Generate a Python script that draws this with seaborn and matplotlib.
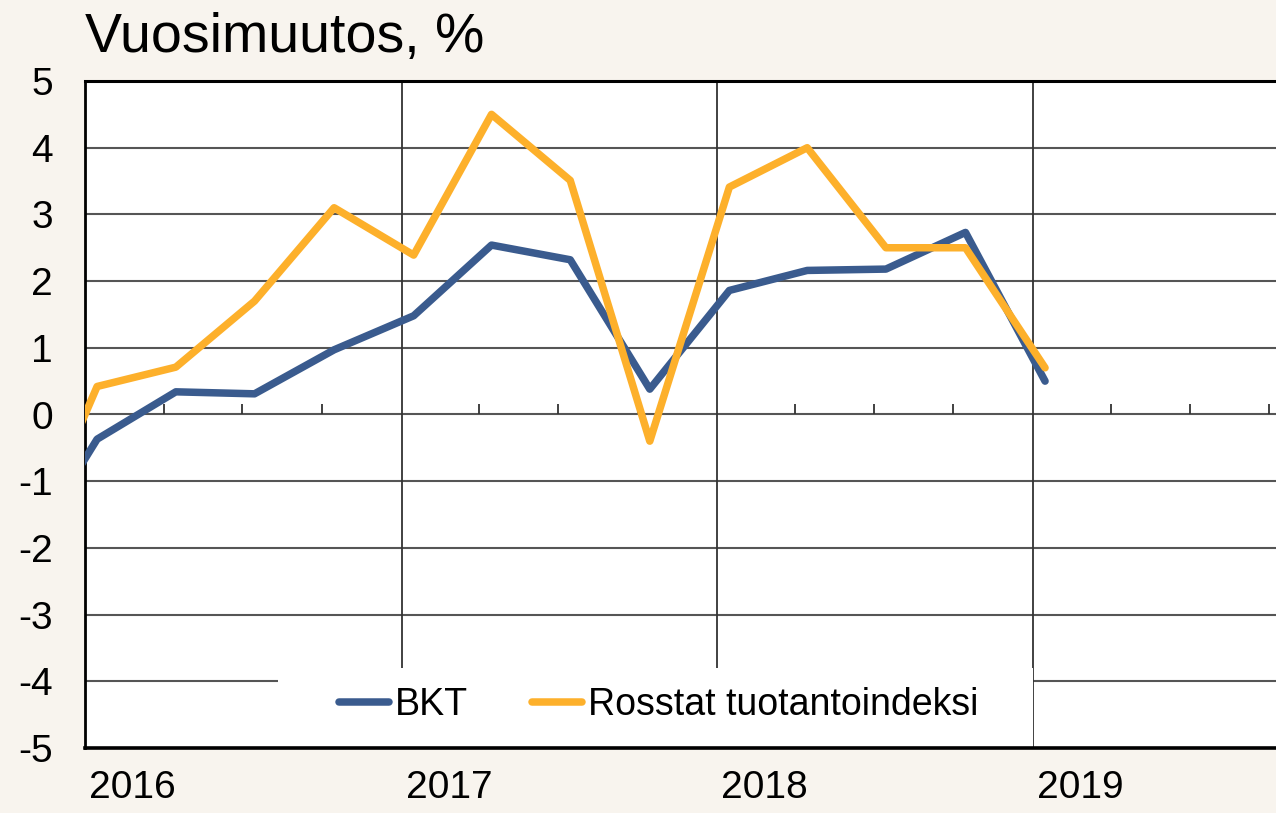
import pandas as pd
import numpy as np
import seaborn as sns
import matplotlib.pyplot as plt
from matplotlib.lines import Line2D
from matplotlib.patches import Rectangle
from matplotlib.transforms import ScaledTranslation

# Quarterly data, plotted at mid-month of the first month of each quarter
dates = pd.to_datetime(['2015-10-15', '2016-01-15', '2016-04-15', '2016-07-15', '2016-10-15',
                        '2017-01-15', '2017-04-15', '2017-07-15', '2017-10-15',
                        '2018-01-15', '2018-04-15', '2018-07-15', '2018-10-15',
                        '2019-01-15'])
bkt = [-2.3, -0.37, 0.34, 0.31, 0.97, 1.48, 2.54, 2.32, 0.38, 1.86, 2.16, 2.18, 2.73, 0.5]
rosstat = [-2.35, 0.42, 0.71, 1.70, 3.10, 2.39, 4.50, 3.51, -0.40, 3.41, 4.00, 2.50, 2.50, 0.70]
series_names = ['BKT', 'Rosstat tuotantoindeksi']
series_colors = ['#3a5b8e', '#fdb02b']
years = [2016, 2017, 2018, 2019]
y_ticks = [5, 4, 3, 2, 1, 0, -1, -2, -3, -4, -5]
title = 'Vuosimuutos, %'

bg = '#f8f4ee'

# Long format for seaborn
df = pd.concat([
    pd.DataFrame({'date': dates, 'value': bkt, 'series': series_names[0]}),
    pd.DataFrame({'date': dates, 'value': rosstat, 'series': series_names[1]}),
])

sns.set_style('white')
plt.rcParams['font.family'] = ['Liberation Sans', 'DejaVu Sans']
plt.rcParams['axes.unicode_minus'] = False
plt.rcParams['text.color'] = 'black'

fig = plt.figure(figsize=(12.76, 8.13), dpi=100, facecolor=bg)
ax = fig.add_axes([85 / 1276, 65 / 813, 1191 / 1276, 667 / 813])
ax.set_facecolor('white')

# Gridlines drawn by hand so the legend box can sit over them
for v in y_ticks[1:-1]:
    ax.axhline(v, color='#555555', lw=1.5, zorder=1)
year_dates = pd.to_datetime([f'{y}-01-01' for y in years])
for d in year_dates[1:]:
    ax.axvline(d, color='#333333', lw=1.3, zorder=1)

# Quarter ticks on the zero line
quarters = pd.date_range('2016-01-01', '2019-10-01', freq='QS')
quarters = quarters[quarters.month != 1]
ax.vlines(quarters, 0, 0.16, color='#333333', lw=1.3, zorder=1)

palette = dict(zip(series_names, series_colors))
sns.lineplot(data=df, x='date', y='value', hue='series', palette=palette,
             hue_order=series_names, linewidth=5.4, legend=False, ax=ax, zorder=3)

ax.set_xlim(pd.Timestamp('2016-01-01'), pd.Timestamp('2019-10-09'))
ax.set_ylim(-5, 5)
ax.set_xlabel('')
ax.set_ylabel('')

ax.set_yticks(y_ticks)
ax.set_yticklabels([str(v) for v in y_ticks], fontsize=28)
ax.tick_params(axis='y', length=0, pad=23, colors='black')

ax.set_xticks(year_dates)
ax.set_xticklabels([str(y) for y in years], fontsize=28, ha='left')
ax.tick_params(axis='x', direction='in', length=5, width=1.2, pad=16, colors='black')
offset = ScaledTranslation(4 / 100, 0, fig.dpi_scale_trans)
for lab in ax.get_xticklabels():
    lab.set_transform(lab.get_transform() + offset)

for side in ['top', 'left', 'bottom']:
    ax.spines[side].set_color('black')
ax.spines['top'].set_linewidth(2.2)
ax.spines['left'].set_linewidth(2.0)
ax.spines['bottom'].set_linewidth(2.6)
ax.spines['right'].set_visible(False)

# White legend area over the gridlines
ax.add_patch(Rectangle((0.162, 0.0), 0.634, 0.12, transform=ax.transAxes,
                       facecolor='white', edgecolor='none', zorder=2))
handles = [Line2D([], [], color=c, lw=5.4, solid_capstyle='round') for c in series_colors]
ax.legend(handles, series_names, loc='center', bbox_to_anchor=(0.4815, 0.064),
          ncol=2, frameon=False, fontsize=27, handlelength=1.35, handletextpad=0.15,
          columnspacing=1.7, labelcolor='black')

fig.text(85 / 1276, 1 - 52 / 813, title, fontsize=40, ha='left', va='baseline', color='black')

plt.savefig('out.png', dpi=100, facecolor=bg)
